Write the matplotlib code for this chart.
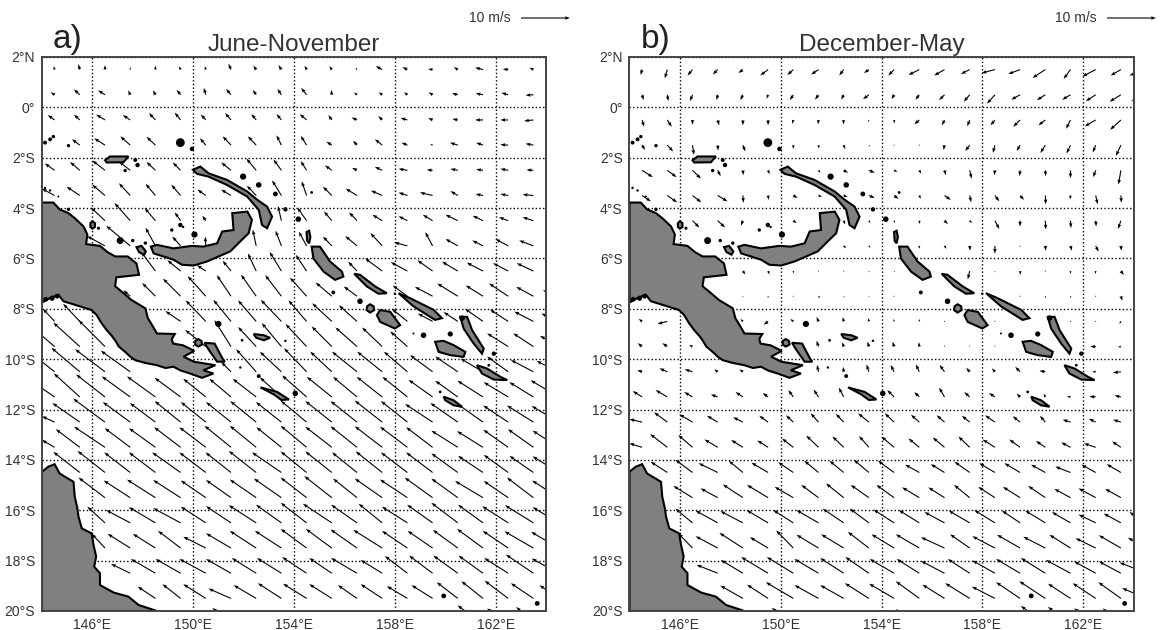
import numpy as np
from matplotlib import pyplot as plt
from matplotlib.patches import Polygon

plt.rcParams['font.family'] = ['Liberation Sans', 'DejaVu Sans']

n = np.nan

lons = [144.5 + i for i in range(21)]
lats = [1.5 - i for i in range(23)]

# june-november wind, m/s (rows north to south)
u_a = [
    [-.2,-.3,0,0,0,-.3,-.2,-.5,-.6,-.6,-.4,-.5,-.3,-1.3,-1,-.9,-.8,-1.6,-1.1,-.8,n],
    [-.8,-1.2,-1.4,-.4,-.5,-.8,-.4,-1,-.7,-.8,-1.1,-.1,-.6,-.7,-.7,-.8,-1.2,-1.5,-1.4,-1.6,n],
    [-1.4,-1.2,-1.8,-1.5,-1.3,-1.2,-1,-1.2,-1,-1,-1.4,-.7,-1.1,-.8,-1.4,-.9,-1.1,-1.6,-1.6,-1.9,n],
    [n,-1.6,-2.2,-2,-1.8,n,-1.2,-1.7,-1.7,-1,-1.2,-1.1,-.8,-1.5,-1.2,-.5,-1.6,-1.4,-1.6,-1.6,n],
    [-2,-2,-2.6,-2.3,-1.8,-1.6,n,-2,-2,-1.6,-1.2,-1.4,-1,-1.5,-1.8,-1.2,-1.5,-1.4,-1.6,-1.4,n],
    [-2.6,-2.7,-2.6,-2.3,-2,-1.9,-1.7,-2,-1.9,-1.9,-1,-1.8,-2.3,-2.3,-1.8,-2.6,-1.5,-1.5,-1.6,-2.2,n],
    [n,n,-2.9,-3.2,-2.2,-1.2,-.7,n,n,-.7,-1.9,-1.6,-1.6,-2,-1.8,-2,-2.5,-2.1,-1.9,-2.2,n],
    [n,n,-3.7,-4.9,-2,-1.7,-.1,n,-.7,-1.2,-1.6,-1.8,-2.4,-2.4,-2.7,-1.5,-2.5,-2.2,-2.6,-2.9,n],
    [n,n,n,n,-2.9,-2.7,-1.8,-1.7,-1.7,-2.4,-2.2,n,-1.8,-3.5,-3.4,-3.1,-3.2,-3.3,-3.1,-3.4,n],
    [n,n,n,-1.4,-2.7,-3.6,-3.7,-2.9,-3.1,-3.3,-3.4,-3.3,-2.7,n,-3,-3.6,-4.2,-3.5,-3.9,-3.5,-3.2],
    [-2.4,-3.4,n,n,n,-3.1,-4.1,-3.6,-3.7,-4.2,-3.7,-4,-3.7,n,-3.2,-3,-2.9,-3.7,-3.7,-3.9,-3.5],
    [-3.5,-5.4,-5.4,n,n,n,-4.2,-3.4,-3.7,-4,-4.3,-4.1,-4.4,-4.1,-3.5,n,n,n,-4.3,-4.1,-3.8],
    [-3.8,-5.8,-6.1,-6,n,n,n,-2,-4.1,-4.4,-4.6,-4.4,-5.1,-5.1,-4.8,-4.6,-4.6,-4.6,-4.3,-4.6,-4.5],
    [-3.8,-5.3,-5.9,-5.8,-5.8,-5.3,-4.6,-4.4,-4.8,-4.4,-5,-5.1,-4.9,-5.2,-5.1,-4.9,-4.6,-5.2,-5,-4.9,-5.7],
    [-2.6,-5.6,-6.5,-5.6,-5.2,-5.3,-5.1,-5.1,-5.3,-5.2,-5.3,-5.4,-5.4,-5.6,-5.4,-5.6,-5.6,-5.2,-5.1,-5.4,-5.5],
    [-2.6,-4.9,-6.3,-5.2,-5.4,-5.4,-5.4,-5.4,-5.4,-5.1,-5.3,-5.4,-5.4,-5.6,-5.6,-5.4,-5.4,-5.3,-5.1,-5.2,-5.3],
    [n,-5.4,-5.6,-5.3,-5.4,-5.8,-5.4,-5.2,-5.6,-6,-5.3,-5.4,-5.1,-5.4,-5.4,-5.4,-5.4,-5.1,-5,-4.9,-5.3],
    [n,n,-5.4,-5.4,-5.8,-5.6,-5.1,-5.1,-5.4,-5.6,-5.3,-5.6,-4.9,-5.6,-5.6,-5.7,-5.4,-5.7,-5,-5.4,-5.4],
    [n,n,-3.6,-4.9,-5.4,-5.6,-5.1,-5.1,-5.6,-5.2,-5.3,-5.9,-5.3,-4.8,-5.2,-5.2,-5.4,-5.1,-5.3,-5.8,-5.3],
    [n,n,-2.7,-4.6,-4.6,-4.6,-4.6,-5.1,-5.4,-5.4,-5.3,-5.3,-5.4,-5.9,-5.2,-5.1,-5.1,-5.3,-5.2,-5.9,-5.6],
    [n,n,n,-3.9,-5,-5.1,-5.4,-5.1,-5,-5,-5,-4.6,-5.3,-4.4,-4.6,-4.8,-5,-5,-4.9,-5.6,-5.5],
    [n,n,n,n,-3.6,-3.7,-4.6,-4.6,-4.6,-4.8,-4.8,-4.6,-3.9,-4.4,-4.2,-4.3,-4.3,-4.4,-4.8,-4.6,-3.9],
    [n,n,n,n,n,n,n,-3.8,n,n,n,-4,n,n,n,n,n,-5.2,-4.3,-3.5,n],
]
v_a = [
    [.7,1.1,.9,.5,.8,.7,.7,1.2,.8,.9,.8,.7,.4,.7,.5,.1,.5,.4,.1,.4,n],
    [.5,1.1,.9,.9,.9,1,1.4,1.2,1,1.2,1.4,1,.5,.5,.5,.5,.3,.3,.4,-.1,n],
    [1,1.1,1.1,1,1.4,1.5,1.1,1.4,1.2,1.2,1.2,1,.5,.8,.4,.4,.2,0,0,-.2,n],
    [n,1.2,1.4,1.8,1.7,n,1.4,1.8,1.8,2,1.9,.7,.9,1.2,.5,.2,.5,.5,.1,.3,n],
    [1.4,1.7,2,1.8,1.7,1.6,n,1.6,2.4,2.2,1.9,1,.5,.7,.3,.1,.3,.2,.3,.1,n],
    [1.4,1.8,2.2,2.5,2.4,2.2,1.2,1.2,2,3.1,2.9,1.8,1.4,1,.6,.6,.9,.3,.3,.2,n],
    [n,n,2.7,3.6,2.6,1.7,1,n,n,3,2.7,1.9,1.7,1.2,.9,1.2,1.2,1,.7,.7,n],
    [n,n,2,4.1,3.7,1.9,1.9,n,3.3,3.1,2.9,1.9,2,2.6,.7,2.8,1.4,1.1,1.4,1.1,n],
    [n,n,n,n,3.9,2.2,1.2,2.1,3.6,3.9,3.3,n,1.9,2.6,1.8,2.2,1.9,1.7,1.6,1.6,n],
    [n,n,n,1.2,2.7,3.6,4.1,4.3,4.4,4.3,3.8,2.8,2,n,2.2,1.9,2.6,2.2,2.6,1.9,1.2],
    [2.6,3.6,n,n,n,2.1,4.3,4.4,4.3,4.4,4.3,3.7,3.3,n,2.6,1.6,1.9,2.6,2.4,2,1.6],
    [3,4.9,5.4,n,n,n,3.4,5.4,4,4.8,4.6,4.1,3.9,3.9,3.1,n,n,n,2.7,2.7,2.2],
    [3,4.9,4.6,4.3,n,n,n,2,4.6,4.1,4.8,4.1,4.1,4.1,4.1,3.4,3.1,2.7,3.1,2.4,2.2],
    [2.6,4.8,4.6,4.2,4.2,3.9,3.7,3.7,3.7,4,4.4,4.1,4.1,4.1,4.1,3.5,3.3,3.3,3,3,3.4],
    [1.2,3.9,4.8,4.1,3.9,4.3,4.1,4.1,4.3,4.1,4.4,4.3,4.3,4.4,4.3,3.7,3.9,3.7,3.4,3.4,3.3],
    [1.5,3.7,4.2,3.9,3.9,4.1,4.1,4.4,4.4,4.1,4.4,4.2,4.3,4.3,4.2,4.1,3.4,3.3,3.6,3.7,3.4],
    [n,4.2,4.4,4.1,4.1,4.1,4.1,4.1,4.4,4.1,4.3,4.3,4.1,4.3,4.1,4.1,3.9,3.4,3.6,3.4,3.3],
    [n,n,4.1,3.5,3.7,3.6,3.5,3.6,3.7,3.9,4.1,4.4,3.9,3.9,3.7,4.1,3.9,3.4,3.4,4.1,3.5],
    [n,n,3.3,2.6,3.2,3,3.3,3.4,3.6,3.7,4.1,3.9,3.7,3.9,3.3,3.7,4.1,3.7,3.4,3.6,3.2],
    [n,n,2.9,2.9,2.9,3.5,2.3,3,3.5,3.5,3.9,3.9,3.8,3.7,3.5,3.5,3.7,3.9,3.5,3.4,3.3],
    [n,n,n,1.9,2.9,2.9,2.9,2.9,3.1,3.1,3.3,3.1,3.1,2.7,3.5,3.6,3.6,3.6,3.1,3.8,3],
    [n,n,n,n,2.4,2.9,2.9,2,2.7,3.1,3,2.9,2.7,2.9,2.5,2.7,3.3,3.5,3.6,3.1,2.7],
    [n,n,n,n,n,n,n,3.2,n,n,n,2.7,n,n,n,n,n,3.7,3.1,3.4,n],
]

# december-may wind, m/s
u_b = [
    [-.3,-.5,-1,-1,-.9,-1.6,-1.2,-1.5,-.9,-1,-1.2,-2.2,-2.1,-1.8,-2.7,-2.4,-2.6,-1.4,-2.7,-2.1,-3.4],
    [.3,.2,-.5,-.2,-.5,-.3,-.7,-.7,-.5,-1.2,-.5,-.8,-1.1,-1.2,-1.6,-1.8,-1.7,-1.7,-2,-2.3,-3],
    [.4,.9,0,.3,0,0,-.2,-.1,-.1,-.1,.1,-1,-.5,-.5,-.9,-1.4,-1.4,-.9,-2.2,-2.2,n],
    [.6,1.2,.3,.1,.5,n,0,.1,.3,.2,-.1,-.1,-.2,-.9,-.4,-.7,-1,-.8,-.6,-1,n],
    [2.2,1.9,1.7,.6,.1,.3,n,.4,.9,1.2,.7,.4,.3,.4,-.1,-.1,.1,0,-.5,-.5,n],
    [1.8,2,1.8,2,.1,.1,.9,.7,.8,1.2,.9,.3,1.3,.3,.9,.8,.1,-.1,.4,.1,n],
    [n,n,1.4,1.5,-.4,n,.7,n,.3,.3,.2,.1,.7,.5,.9,0,.1,.1,.1,-.6,n],
    [n,n,n,n,n,n,n,n,.5,.3,n,0,.4,.1,0,-.1,.1,.3,.6,.1,n],
    [n,n,n,n,.5,.3,.1,-.1,0,.1,.2,n,n,-.4,0,.1,-.1,0,-.1,.6,n],
    [n,n,n,n,0,0,0,.3,.1,0,0,n,n,n,n,-.1,.1,.1,-.1,.3,n],
    [-.7,-2,n,n,-.5,-.9,-.6,-.4,-.2,-.1,-.1,0,-.1,n,0,n,n,-.1,-.1,-.3,n],
    [-.9,-1,-.7,n,n,n,n,-.4,-.3,-.3,-.3,-.1,-.1,0,0,n,n,n,-1.1,-.6,n],
    [-1,-1.6,-1.6,-.7,-.7,n,n,-.3,-.1,-.5,-.7,-.7,-1,-.7,-.6,-1,-1.2,n,-.7,-1.6,n],
    [-1.9,-2.4,-1.7,-1.4,-1.5,-1.1,-1,-1,-1,n,-1.4,-1,-1.1,-1.1,-1.2,-.7,-.3,-.7,-1.3,-1.3,n],
    [-2.6,-2.7,-2.7,-2.2,-2,-1.8,-1.5,-1.6,-1.6,-2.2,-1.9,-1.7,-1.6,-1.6,-2,-1.5,-1.1,-1.6,-1.4,-1.6,n],
    [-2.6,-3.5,-2.9,-2.7,-2.4,-2.2,-2.3,-2.5,-2.3,-2,-2.6,-2.2,-2.4,-2.3,-2.5,-2.2,-1.9,-1.9,-2.4,-1.8,n],
    [n,-3.4,-3.5,-3.9,-2.9,-3.4,-3.1,-2.9,-2.9,-3.1,-3.3,-2.9,-2.8,-3.1,-3.2,-3.2,-2.9,-3.1,-2.9,-2.9,n],
    [n,n,-3.9,-3.5,-4.1,-4.3,-3.8,-3.5,-3.6,-3.7,-3.6,-3.5,-3.3,-3.2,-3.4,-3.5,-3.5,-3.3,-3.5,-3.2,n],
    [n,n,-3.5,-4.5,-4.6,-4.4,-4.1,-4.5,-4.3,-3.9,-4.2,-4.2,-4.1,-4.3,-4.2,-3.7,-4.1,-3.8,-3.5,-3.5,-3.4],
    [n,n,-2.9,-4.5,-4.8,-3.7,-3.5,-4.5,-4.6,-4.3,-4.6,-4.8,-4.8,-4,-4.6,-4.7,-4.5,-4.3,-4.1,-4.5,-3.7],
    [n,n,n,-4.3,-4.5,-5.5,-5.4,-4.9,-4.8,-4.8,-5,-4.6,-4.8,-4.5,-4.6,-4.9,-5,-5,-4.4,-4.5,-5.4],
    [n,n,n,n,-4.6,-4.3,-5.6,-4.9,-4.8,-4.9,-5.1,-4.8,-4.5,-5,-4.7,-4.9,-5.3,-4.6,-4.7,-4.6,-4.9],
    [n,n,n,n,n,n,-4.4,n,n,n,n,-4.8,n,n,n,n,-5,-4.6,-4.4,-3.7,n],
]
v_b = [
    [-1.1,-1.8,-1.2,-1,-.7,-1.2,-1.1,-1,-1.2,-.7,-1.2,-1.1,-1.2,-.9,-.7,-.9,-1.7,-1.9,-1.4,-1.2,-1.2],
    [-1.1,-1.3,-1.3,-1.1,-1.1,-.8,-1.1,-1,-1,-.9,-.9,-1,-1.1,-1.4,-1.8,-1,-1.1,-1,-1.3,-1.4,-1.3],
    [-1.4,-1.4,-1,-1.1,-1.1,-1.1,-.8,-.9,-.9,-.4,-.7,-.9,-1.1,-1.3,-1.1,-1.4,-1.1,-1.8,-1.3,-2,n],
    [-1,-1.3,-2,-1.1,-1.3,n,-.8,-.7,-.8,-.3,-.2,-.1,-1,-1.2,-1.6,-1.2,-1.6,-1.7,-1.5,-2.2,n],
    [-1.4,-1.4,-1.7,-1.2,-1,-.8,n,-.5,-.5,-.5,-.3,-.7,-1,-1.7,-1,-1.2,-1.2,-1.6,-1.4,-2.9,n],
    [-1.2,-1.4,-1.4,-1.2,-1.5,-.9,-.5,-.3,-.3,-.5,-.7,-.7,-.9,-1.4,-1.2,-.9,-1.8,-.8,-1.8,-1.5,n],
    [n,n,-1.4,-1.4,-1,n,-.5,n,-.8,-.5,-.5,-.7,-.7,-.5,-1.7,-1.2,-1.8,-1.5,-1.2,-1.7,n],
    [n,n,n,n,n,n,n,n,-.5,-.4,n,-.6,-.6,-1,-1.6,-.3,-1,-1,-1.2,-1,n],
    [n,n,n,n,-.7,-.7,-.5,-.2,-.1,-.3,-.2,n,n,-1.7,-.3,-.8,-.2,-.6,-.6,-.8,n],
    [n,n,n,n,-.3,-.4,-.1,-.4,-.3,-.3,-.2,n,n,n,n,-.1,-.4,-.4,-.2,-.9,n],
    [.5,-.5,n,n,.5,-.7,.5,.9,.9,.7,.5,.5,.1,n,.1,n,n,.1,.1,-.5,n],
    [.7,.7,.3,n,n,n,n,1.2,.9,1,1,.9,.3,.3,.3,n,n,n,0,-.1,n],
    [.3,.7,.5,.5,.5,n,n,1.4,1,1.5,1.4,1.5,1.4,.8,.7,1,.2,n,0,-.2,n],
    [1.2,1.4,1,.5,1,.8,1.4,1.5,1.9,n,1.4,1,1.9,1,.8,.7,.7,.1,.1,.3,n],
    [.6,2,1.6,1.3,1,1.3,1.4,1.8,1.7,1.8,1.8,1.5,1.4,1.3,1.4,1.2,1.3,.5,.7,.5,n],
    [.8,2.7,2.5,1.6,1.5,1.4,1.8,2.4,2.2,2.3,2.2,1.8,2,2.2,1.6,1.6,1.3,1,.8,1.2,n],
    [n,2.2,2.6,1.9,2.4,2,2.1,2.4,2.4,2.6,2.4,1.6,1.7,2.2,1.9,1.9,1.6,1.2,1.6,1.7,n],
    [n,n,2.4,1.9,2.7,2.6,2.2,2.6,2.9,2.6,2.6,2.1,2.1,2.6,2.2,2.2,2.4,1.8,1.9,1.8,n],
    [n,n,2.9,2.5,2.4,2.6,2.6,2.6,2.9,2.9,2.7,2.6,2.2,2.5,2.6,2.5,2.5,2.2,1.7,1.9,2.2],
    [n,n,3,2.4,3.1,2.2,3.6,2.7,2.8,3.3,2.8,2.8,2.2,2.8,2.4,2.7,2.3,2.7,2,2.6,2.1],
    [n,n,n,1.7,2.7,3.3,3.3,2.9,3.1,3.3,2.9,2.9,2.5,2.9,2.6,2.9,3.1,2.7,2.4,2.4,2.2],
    [n,n,n,n,2.6,2.8,3.3,2.7,2.7,3.1,3,3.5,2.8,3.1,2.4,3.3,3.5,3,3.1,3.3,2.1],
    [n,n,n,n,n,n,3.2,n,n,n,n,2.9,n,n,n,n,3.6,3.4,3.1,3.1,n],
]

# coastlines, (lon, lat)
new_guinea = [(144,-3.78),(144.45,-3.78),(144.7,-4.05),(145.05,-4.2),(145.3,-4.4),(145.65,-4.73),
    (145.8,-5.05),(145.75,-5.43),(146.3,-5.5),(146.6,-5.75),(146.9,-5.92),(147.4,-5.92),(147.75,-6.2),
    (147.85,-6.65),(146.95,-6.75),(146.9,-7.1),(147.2,-7.35),(147.55,-7.65),(148.1,-7.98),(148.2,-8.37),
    (148.4,-8.7),(148.56,-8.98),(149.27,-9),(149.15,-9.2),(149.2,-9.38),(149.6,-9.45),(150.04,-9.67),
    (149.62,-9.9),(150.02,-10.1),(150.88,-10.24),(150.4,-10.44),(150.8,-10.57),(150.35,-10.74),
    (149.88,-10.57),(149.5,-10.45),(149.22,-10.3),(148.9,-10.35),(148.56,-10.24),(148.1,-10.15),
    (147.7,-10.04),(147.5,-9.9),(147.3,-9.71),(147.05,-9.5),(146.9,-9.25),(146.75,-9.05),(146.57,-8.85),
    (146.35,-8.55),(146.17,-8.25),(145.97,-8.05),(145.5,-7.9),(144.85,-7.7),(144.65,-7.44),(144.3,-7.58),(144,-7.75)]
australia = [(144,-14.47),(144.25,-14.27),(144.5,-14.17),(144.7,-14.54),(145.25,-14.87),(145.3,-15.46),
    (145.4,-15.9),(145.45,-16.26),(145.58,-16.72),(145.97,-16.92),(146.05,-17.4),(146.15,-17.84),(146.07,-18.24),
    (146.3,-18.5),(146.3,-18.97),(146.85,-19.27),(147.43,-19.43),(147.83,-19.76),(148.56,-20),(144,-20)]
new_britain = [(148.32,-5.53),(148.56,-5.46),(149.22,-5.6),(149.95,-5.5),(150.4,-5.53),(150.95,-5.4),
    (151.15,-4.93),(151.6,-4.87),(151.55,-4.2),(152.15,-4.14),(152.33,-4.47),(152.2,-5),(151.93,-5.26),
    (151.47,-5.72),(150.55,-6.12),(150.02,-6.28),(149.55,-6.25),(149.22,-6.05),(148.82,-5.92),(148.43,-5.8)]
new_ireland = [(149.99,-2.48),(150.28,-2.35),(150.61,-2.62),(151.34,-2.88),(152.14,-3.34),(152.54,-3.67),
    (152.93,-3.94),(153.13,-4.34),(152.93,-4.8),(152.73,-4.67),(152.6,-4.07),(152.14,-3.54),(151.34,-3.08),
    (150.61,-2.75),(150.15,-2.64)]
manus = [(146.5,-2.1),(146.7,-1.95),(147.43,-1.95),(147.23,-2.18),(146.57,-2.19)]
long_island = [(147.75,-5.55),(147.95,-5.5),(148.12,-5.72),(148.05,-5.85),(147.85,-5.75)]
bougainville = [(154.7,-5.53),(155.03,-5.53),(155.43,-6.12),(155.9,-6.52),(155.96,-6.72),(155.63,-6.85),
    (155.17,-6.52),(154.77,-6)]
buka = [(154.5,-4.95),(154.6,-4.9),(154.65,-5.15),(154.6,-5.4),(154.52,-5.3)]
choiseul = [(156.39,-6.61),(156.62,-6.65),(157.22,-7.11),(157.68,-7.38),(157.35,-7.4),(156.89,-7.11)]
santa_isabel = [(158.15,-7.38),(158.61,-7.58),(159.54,-8.04),(159.87,-8.37),(159.6,-8.44),(158.74,-7.9)]
new_georgia = [(157.42,-8.05),(157.82,-8.12),(158.21,-8.65),(158,-8.78),(157.42,-8.52),(157.29,-8.25)]
kolombangara = [(156.9,-7.9),(157.02,-7.82),(157.16,-7.9),(157.18,-8.05),(157.02,-8.15),(156.88,-8.05)]
malaita = [(160.6,-8.32),(160.87,-8.32),(161.07,-8.85),(161.53,-9.58),(161.46,-9.78),(161.13,-9.38),(160.73,-8.78)]
guadalcanal = [(159.6,-9.31),(159.93,-9.27),(160.33,-9.44),(160.8,-9.71),(160.73,-9.91),(160.2,-9.84),(159.74,-9.71)]
makira = [(161.26,-10.24),(161.66,-10.37),(162.19,-10.7),(162.46,-10.83),(161.93,-10.81),(161.46,-10.57)]
rennell = [(159.94,-11.49),(160.33,-11.63),(160.67,-11.89),(160.33,-11.83),(160,-11.63)]
goodenough = [(150.08,-9.28),(150.2,-9.2),(150.33,-9.28),(150.35,-9.42),(150.2,-9.5),(150.08,-9.42)]
fergusson = [(150.45,-9.35),(150.85,-9.38),(151.15,-9.95),(151.25,-10.1),(150.95,-10.1),(150.6,-9.6)]
woodlark = [(152.4,-9.0),(152.8,-9.05),(153.05,-9.15),(152.8,-9.25),(152.5,-9.15)]
misima = [(152.67,-11.12),(153.33,-11.3),(153.8,-11.6),(153.5,-11.62),(153.2,-11.4)]
manam = [(145.92,-4.6),(146,-4.52),(146.1,-4.6),(146.1,-4.75),(146,-4.82),(145.92,-4.75)]
islands = [new_guinea, australia, new_britain, new_ireland, manus, long_island, bougainville, buka,
           choiseul, santa_isabel, new_georgia, kolombangara, malaita, guadalcanal, makira, rennell,
           goodenough, fergusson, woodlark, misima, manam]

dot_lon = [149.49,149.95,145.05,144.45,144.32,144.12,147.7,147.79,147.3,151.98,152.6,153.26,153.66,154.7,154.17,
           146.24,147.1,147.6,148.1,149.15,149.49,144.65,144.32,144.12,145.05,151.0,151.87,152.6,151.94,153.66,
           154.05,155.56,159.14,160.2,161.93,161.73,160.67,159.8,159.94,163.65,158.74,150.05,149.6,156.62,158.0,
           144.15,144.4,144.6]
dot_lat = [-1.4,-1.65,-1.52,-1.16,-1.27,-1.4,-2.09,-2.29,-2.51,-2.75,-3.08,-3.44,-4.05,-3.38,-4.44,
           -4.8,-5.29,-5.29,-5.39,-4.87,-4.67,-3.54,-3.3,-3.2,-4.05,-8.6,-10.33,-10.67,-9.25,-9.27,
           -11.36,-7.35,-9.05,-9,-9.78,-10.24,-8.37,-11.3,-19.4,-19.7,-8.98,-5.05,-4.75,-7.7,-7.4,
           -7.62,-7.58,-7.5]
dot_size = [40,10,6,6,8,8,8,10,6,20,16,12,10,4,16,
            5,25,6,6,6,10,2,3,3,6,20,3,8,4,3,
            16,8,16,14,10,4,16,4,12,12,2,20,3,16,3,
            12,14,12]

x_ticks = [146, 150, 154, 158, 162]
y_ticks = [2, 0, -2, -4, -6, -8, -10, -12, -14, -16, -18, -20]


def lat_label(lat):
    if lat == 0:
        return '0°'
    return f'{abs(lat)}°' + ('N' if lat > 0 else 'S')


def draw_panel(fig, left, key_x, u, v, letter, title):
    W, H = 1162, 630
    ax = fig.add_axes([left / W, 1 - 611 / H, 504 / W, 554 / H])
    ax.set_xlim(144, 164)
    ax.set_ylim(-20, 2)

    q = ax.quiver(lons, lats, np.array(u), np.array(v), pivot='tail', units='inches',
                  scale_units='inches', scale=10 / 0.49, width=0.011,
                  headwidth=3.2, headlength=4.5, headaxislength=4, color='k', zorder=2)
    ax.quiverkey(q, key_x / W, 1 - 18 / H, 10, '10 m/s', labelpos='W', coordinates='figure',
                 labelsep=0.1, fontproperties={'size': 10}, labelcolor='#333333')

    for coast in islands:
        ax.add_patch(Polygon(coast, closed=True, facecolor='#808080', edgecolor='k', lw=1.5, zorder=3))
    ax.scatter(dot_lon, dot_lat, s=dot_size, c='k', linewidths=0, zorder=3)

    ax.set_xticks(x_ticks)
    ax.set_xticklabels([f'{x}°E' for x in x_ticks])
    ax.set_yticks(y_ticks)
    ax.set_yticklabels([lat_label(y) for y in y_ticks])
    ax.tick_params(length=0, labelsize=10, labelcolor='#333333', pad=5)
    ax.grid(True, color='k', linestyle=':', linewidth=1.0, zorder=4)
    ax.set_axisbelow(False)
    for spine in ax.spines.values():
        spine.set_linewidth(1.4)
        spine.set_color('#444444')
        spine.set_zorder(6)

    fig.text((left + 252) / W, 1 - 51 / H, title, ha='center', va='baseline', fontsize=17.5, color='#333333')
    fig.text((left + 11) / W, 1 - 48 / H, letter, ha='left', va='baseline', fontsize=24, color='#222222')


def main():
    fig = plt.figure(figsize=(11.62, 6.30), dpi=100)
    draw_panel(fig, 42, 521, u_a, v_a, 'a)', 'June-November')
    draw_panel(fig, 629.5, 1107, u_b, v_b, 'b)', 'December-May')
    fig.savefig('out.png', dpi=100)


if __name__ == '__main__':
    main()
